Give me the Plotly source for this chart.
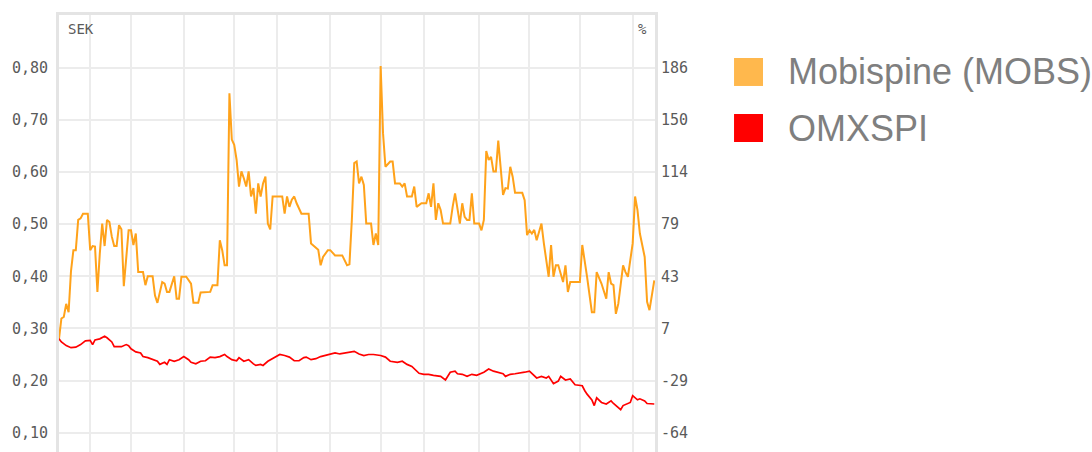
import plotly.graph_objects as go

# ---------------- data ----------------
BASE = 0.28  # start value (SEK) used to rebase the % axis

# Mobispine (MOBS) closing price, SEK, by trading-day index
mobs_day = [0, 1, 2, 3, 4, 5, 6, 7, 8, 9, 10, 12, 13, 14, 15, 16, 17, 18, 19, 20,
            21, 22, 23, 24, 25, 26, 27, 29, 30, 31, 32, 33, 35, 36, 37, 39, 40, 41, 43, 44,
            45, 46, 48, 49, 50, 51, 53, 55, 56, 58, 59, 63, 64, 66, 67, 68, 69, 70, 71, 72,
            73, 74, 75, 76, 77, 78, 79, 80, 81, 82, 83, 84, 85, 86, 87, 88, 89, 93, 94, 95,
            96, 97, 98, 99, 101, 104, 105, 108, 109, 110, 112, 113, 115, 118, 120, 121, 122, 123, 124, 125,
            126, 127, 128, 130, 131, 132, 133, 134, 135, 136, 138, 139, 140, 142, 143, 144, 145, 147, 148, 149,
            151, 153, 154, 155, 156, 157, 158, 159, 160, 163, 164, 165, 167, 168, 169, 170, 171, 172, 173, 175,
            176, 177, 178, 179, 180, 181, 182, 183, 185, 186, 187, 188, 189, 190, 193, 194, 195, 196, 197, 198,
            199, 201, 202, 203, 204, 205, 206, 207, 208, 210, 211, 212, 213, 217, 218, 220, 222, 223, 224, 226,
            228, 229, 230, 231, 232, 233, 235, 236, 237, 239, 240, 241, 242, 244, 245, 246, 248]
mobs_sek = [0.280, 0.319, 0.322, 0.347, 0.331, 0.410, 0.450, 0.450, 0.508, 0.511, 0.520, 0.520, 0.450, 0.458, 0.457, 0.370, 0.444, 0.501, 0.458, 0.508,
            0.504, 0.476, 0.458, 0.458, 0.498, 0.490, 0.381, 0.488, 0.488, 0.460, 0.482, 0.408, 0.408, 0.383, 0.400, 0.400, 0.363, 0.349, 0.389, 0.386,
            0.370, 0.370, 0.400, 0.357, 0.357, 0.399, 0.399, 0.386, 0.349, 0.349, 0.369, 0.370, 0.383, 0.383, 0.469, 0.450, 0.421, 0.421, 0.751, 0.662,
            0.652, 0.623, 0.572, 0.601, 0.588, 0.572, 0.601, 0.553, 0.569, 0.520, 0.578, 0.553, 0.578, 0.591, 0.501, 0.490, 0.553, 0.553, 0.520, 0.553,
            0.533, 0.547, 0.553, 0.540, 0.520, 0.520, 0.463, 0.451, 0.421, 0.437, 0.450, 0.450, 0.440, 0.440, 0.421, 0.423, 0.508, 0.617, 0.620, 0.578,
            0.591, 0.575, 0.501, 0.501, 0.460, 0.482, 0.460, 0.803, 0.674, 0.610, 0.620, 0.620, 0.578, 0.578, 0.572, 0.578, 0.553, 0.553, 0.572, 0.533,
            0.540, 0.540, 0.559, 0.533, 0.578, 0.508, 0.540, 0.527, 0.501, 0.501, 0.533, 0.559, 0.501, 0.540, 0.514, 0.508, 0.508, 0.559, 0.501, 0.501,
            0.488, 0.508, 0.640, 0.623, 0.629, 0.601, 0.601, 0.660, 0.556, 0.569, 0.568, 0.610, 0.591, 0.560, 0.560, 0.546, 0.479, 0.488, 0.482, 0.489,
            0.469, 0.501, 0.463, 0.431, 0.399, 0.460, 0.399, 0.421, 0.421, 0.389, 0.421, 0.370, 0.389, 0.389, 0.460, 0.399, 0.331, 0.331, 0.408, 0.386,
            0.357, 0.408, 0.386, 0.383, 0.328, 0.347, 0.421, 0.408, 0.399, 0.463, 0.553, 0.527, 0.482, 0.437, 0.351, 0.335, 0.392]

# OMXSPI, rebased to the same start value (SEK-equivalent), by trading-day index
omx_day = [0, 1, 3, 5, 7, 9, 11, 13, 14, 15, 17, 19, 20, 22, 23, 26, 28, 29, 30, 32,
           34, 35, 37, 39, 41, 42, 44, 45, 46, 48, 50, 52, 54, 55, 57, 59, 61, 63, 65, 67,
           69, 70, 72, 74, 75, 77, 79, 81, 82, 84, 85, 87, 89, 91, 92, 94, 96, 98, 100, 102,
           103, 105, 107, 109, 111, 113, 115, 117, 119, 121, 123, 125, 126, 127, 129, 131, 134, 136, 138, 141,
           143, 145, 147, 148, 150, 152, 154, 156, 159, 161, 162, 163, 165, 166, 168, 170, 172, 174, 177, 178,
           179, 181, 183, 185, 186, 188, 190, 192, 194, 196, 197, 199, 201, 203, 204, 206, 208, 209, 211, 213,
           215, 218, 219, 220, 222, 223, 224, 226, 228, 230, 231, 233, 234, 235, 237, 238, 239, 241, 242, 244,
           245, 247, 248]
omx_rebased = [0.280, 0.274, 0.267, 0.263, 0.264, 0.269, 0.276, 0.277, 0.269, 0.278, 0.280, 0.285, 0.282, 0.274, 0.265, 0.265, 0.269, 0.267, 0.261, 0.255,
               0.253, 0.246, 0.244, 0.240, 0.237, 0.231, 0.235, 0.231, 0.240, 0.237, 0.240, 0.246, 0.240, 0.235, 0.232, 0.237, 0.238, 0.245, 0.244, 0.246,
               0.250, 0.246, 0.240, 0.238, 0.244, 0.237, 0.240, 0.232, 0.229, 0.231, 0.229, 0.237, 0.242, 0.248, 0.250, 0.248, 0.245, 0.238, 0.238, 0.244,
               0.245, 0.240, 0.242, 0.246, 0.248, 0.250, 0.253, 0.251, 0.253, 0.255, 0.256, 0.251, 0.250, 0.248, 0.250, 0.250, 0.248, 0.245, 0.237, 0.235,
               0.237, 0.231, 0.227, 0.222, 0.214, 0.212, 0.212, 0.210, 0.208, 0.201, 0.208, 0.216, 0.218, 0.213, 0.212, 0.208, 0.212, 0.210, 0.216, 0.219,
               0.222, 0.218, 0.216, 0.213, 0.208, 0.212, 0.213, 0.214, 0.216, 0.218, 0.213, 0.205, 0.208, 0.205, 0.208, 0.194, 0.199, 0.208, 0.201, 0.203,
               0.192, 0.190, 0.181, 0.174, 0.163, 0.152, 0.167, 0.158, 0.155, 0.161, 0.156, 0.149, 0.144, 0.152, 0.156, 0.158, 0.171, 0.163, 0.165, 0.161,
               0.156, 0.155, 0.155]

month_starts = [13, 30, 52, 73, 91, 113, 134, 152, 175, 196, 217, 239]
sek_ticks = [0.10, 0.20, 0.30, 0.40, 0.50, 0.60, 0.70, 0.80]
pct_labels = ["-64", "-29", "7", "43", "79", "114", "150", "186"]
series_names = ["Mobispine (MOBS)", "OMXSPI"]
series_colors = ["#ffa21a", "#ff0000"]
legend_colors = ["#ffb84d", "#ff0000"]

# ---------------- figure ----------------
Y_RANGE = [0.063, 0.901]
to_pct = lambda v: (v / BASE - 1) * 100

fig = go.Figure()
fig.add_trace(go.Scatter(x=mobs_day, y=mobs_sek, mode="lines", name=series_names[0],
                         line=dict(color=series_colors[0], width=2), yaxis="y"))
fig.add_trace(go.Scatter(x=omx_day, y=[to_pct(v) for v in omx_rebased], mode="lines",
                         name=series_names[1], line=dict(color=series_colors[1], width=1.7),
                         yaxis="y2"))

grid = "#ececec"
border = "#e4e4e4"
tickfont = dict(family="DejaVu Sans Mono", size=15, color="#5a5a5a")

fig.update_layout(
    width=1092, height=452,
    margin=dict(l=59, r=437, t=15, b=0, autoexpand=False),
    paper_bgcolor="white", plot_bgcolor="white",
    separators=", ",
    showlegend=False,
    xaxis=dict(range=[0, 248.3], tickvals=month_starts, showticklabels=False, ticks="",
               showgrid=True, gridcolor=grid, gridwidth=2, zeroline=False, automargin=False,
               side="top", showline=True, linecolor=border, linewidth=3),
    yaxis=dict(range=Y_RANGE, tickvals=sek_ticks, tickformat=".2f", ticks="",
               showgrid=True, gridcolor=grid, gridwidth=2, zeroline=False, automargin=False,
               showline=True, mirror=True, linecolor=border, linewidth=3,
               tickfont=tickfont, ticklabelstandoff=5),
    yaxis2=dict(range=[to_pct(Y_RANGE[0]), to_pct(Y_RANGE[1])], overlaying="y", side="right",
                tickvals=[to_pct(v) for v in sek_ticks], ticktext=pct_labels, ticks="",
                showgrid=False, zeroline=False, showline=False, automargin=False,
                tickfont=tickfont, ticklabelstandoff=5),
)

# axis unit captions
caption_font = dict(family="DejaVu Sans Mono", size=14, color="#5a5a5a")
fig.add_annotation(text="SEK", xref="paper", yref="paper", x=0.011, y=0.968,
                   xanchor="left", yanchor="middle", showarrow=False, font=caption_font)
fig.add_annotation(text="%", xref="paper", yref="paper", x=0.990, y=0.968,
                   xanchor="right", yanchor="middle", showarrow=False, font=caption_font)

# legend (square swatches + labels on the right)
leg_y = [0.8696, 0.7414]
for name, col, yc in zip(series_names, legend_colors, leg_y):
    fig.add_shape(type="rect", xref="paper", yref="paper",
                  x0=1.1326, x1=1.1812, y0=yc - 0.032, y1=yc + 0.032,
                  fillcolor=col, line=dict(width=0))
    fig.add_annotation(text=name, xref="paper", yref="paper", x=1.2198, y=yc,
                       xanchor="left", yanchor="middle", showarrow=False,
                       font=dict(family="Liberation Sans", size=36, color="#7f7f7f"))

fig.write_html("out.html", config={"displayModeBar": False},
               post_script="document.body.style.margin='0';document.body.style.padding='0';")
